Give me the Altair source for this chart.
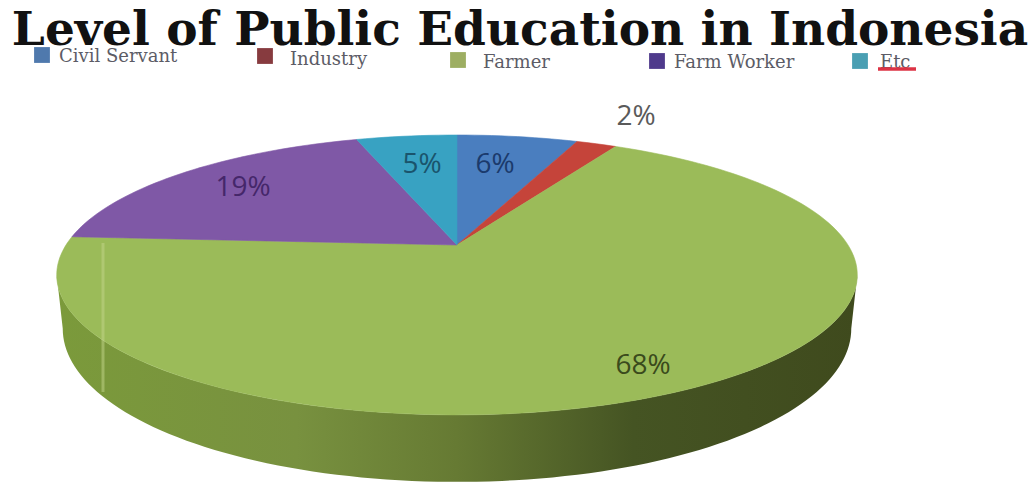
import math
import altair as alt

# Occupation shares, clockwise from twelve o'clock
categories = ["Civil Servant", "Industry", "Farmer", "Farm Worker", "Etc"]
shares = [6, 2, 68, 19, 5]
slice_colors = ["#4a7ebf", "#c5443a", "#9bbb59", "#7f58a6", "#38a2c2"]
swatch_colors = ["#4f79ad", "#873b3f", "#9dae62", "#4f3a8c", "#4a9fb3"]
label_colors = ["#1b3a6c", "#5a5a5a", "#3a4a1c", "#45276a", "#1a546c"]

# Tilted-disc projection: the near edge of the disc looks larger than the far edge
APEX_X, APEX_Y = 457, 245
RADIUS_X, TILT, SQUASH = 391, 0.214, 81.1


def rim(theta):
    """Screen position of a rim point; theta runs clockwise from the top."""
    u, v = math.sin(theta), math.cos(theta)
    w = 1 + TILT * v
    return [round(APEX_X + RADIUS_X * u / w, 2), round((APEX_Y - SQUASH * v) / w, 2)]


def base(theta):
    """Matching point on the lower edge of the disc's wall."""
    x, y = rim(theta)
    return [round(APEX_X + 0.985 * (x - APEX_X), 2), round(y + 50 - 17 * math.cos(theta), 2)]


def arc_angles(a0, a1):
    n = max(2, int(abs(a1 - a0) / math.radians(1.5)))
    return [a0 + (a1 - a0) * i / n for i in range(n + 1)]


def polygon(points, **props):
    return {
        "type": "Feature",
        "properties": props,
        "geometry": {"type": "Polygon", "coordinates": [points + [points[0]]]},
    }


total = sum(shares)
slices, running = [], 0
for name, share in zip(categories, shares):
    start = 2 * math.pi * running / total
    running += share
    end = 2 * math.pi * running / total
    outline = [[APEX_X, APEX_Y]] + [rim(t) for t in arc_angles(start, end)]
    slices.append(polygon(outline, category=name))

# The wall runs along the near half of the rim, between its widest points
wall_from = math.acos(-TILT)
wall_to = 2 * math.pi - wall_from
front = arc_angles(wall_from, wall_to)
wall = [polygon([rim(t) for t in front] + [base(t) for t in reversed(front)], part="wall")]

color_scale = alt.Scale(domain=categories, range=slice_colors)

wall_layer = alt.Chart(alt.Data(values=wall)).mark_geoshape(
    fill=alt.Gradient(
        gradient="linear", x1=0, x2=1, y1=0, y2=0,
        stops=[
            alt.GradientStop(offset=0, color="#7b9a3b"),
            alt.GradientStop(offset=0.3, color="#78913f"),
            alt.GradientStop(offset=0.5, color="#667a33"),
            alt.GradientStop(offset=0.72, color="#455423"),
            alt.GradientStop(offset=1, color="#3f4a1d"),
        ],
    ),
    stroke=None,
).project(type="identity", scale=1, translate=[0, 0])

slice_layer = alt.Chart(alt.Data(values=slices)).mark_geoshape(strokeWidth=0.6).encode(
    fill=alt.Fill("properties.category:N", scale=color_scale, legend=None),
    stroke=alt.Stroke("properties.category:N", scale=color_scale, legend=None),
).project(type="identity", scale=1, translate=[0, 0])

# Pale vertical streak across the left of the disc
streak = alt.Chart({"values": [{}]}).mark_rule(color="#c4d68c", strokeWidth=3, opacity=0.5).encode(
    x=alt.value(103), y=alt.value(243), y2=alt.value(392)
)

slot_rows = [
    {"slot": i, "category": c, "share": s, "label": f"{s}%", "swatch": sw, "ink": ink}
    for i, (c, s, sw, ink) in enumerate(zip(categories, shares, swatch_colors, label_colors))
]
slots = list(range(len(categories)))


def place(x_range, y_range):
    return dict(
        x=alt.X("slot:Q", axis=None, scale=alt.Scale(domain=slots, range=x_range, zero=False, nice=False)),
        y=alt.Y("slot:Q", axis=None, scale=alt.Scale(domain=slots, range=y_range, zero=False, nice=False)),
    )


swatches = alt.Chart(alt.Data(values=slot_rows)).mark_square(size=250, opacity=1).encode(
    color=alt.Color("swatch:N", scale=None),
    **place([42, 265, 458, 657, 860], [55, 56, 60, 61, 61]),
)
legend_text = alt.Chart(alt.Data(values=slot_rows)).mark_text(
    align="left", baseline="middle", font="DejaVu Serif", fontSize=18, color="#5c5c66"
).encode(text="category:N", **place([59, 290, 483, 674, 880], [57, 60, 63, 63, 63]))

# Red spell-check squiggle under the last legend entry
squiggle = alt.Chart({"values": [{}]}).mark_rule(color="#dc3345", strokeWidth=3.5).encode(
    x=alt.value(878), x2=alt.value(916), y=alt.value(69)
)

value_labels = alt.Chart(alt.Data(values=slot_rows)).mark_text(
    align="center", baseline="middle", font="Open Sans", fontSize=28
).encode(
    text="label:N",
    color=alt.Color("ink:N", scale=None),
    **place([495, 636, 643, 243, 422], [165, 117, 366, 188, 165]),
)

title = alt.Chart({"values": [{"t": "Level of Public Education in Indonesia"}]}).mark_text(
    align="center", baseline="alphabetic", font="DejaVu Serif", fontWeight="bold",
    fontSize=47, color="#111111"
).encode(text="t:N", x=alt.value(520), y=alt.value(45))

chart = (
    alt.layer(wall_layer, slice_layer, streak, swatches, legend_text, squiggle, value_labels, title)
    .resolve_scale(x="independent", y="independent", color="independent")
    .properties(width=1033, height=483, padding=0, autosize=alt.AutoSizeParams(type="none"))
    .configure_view(stroke=None)
)

chart.save("out.html", embed_options={"renderer": "svg", "actions": False})
